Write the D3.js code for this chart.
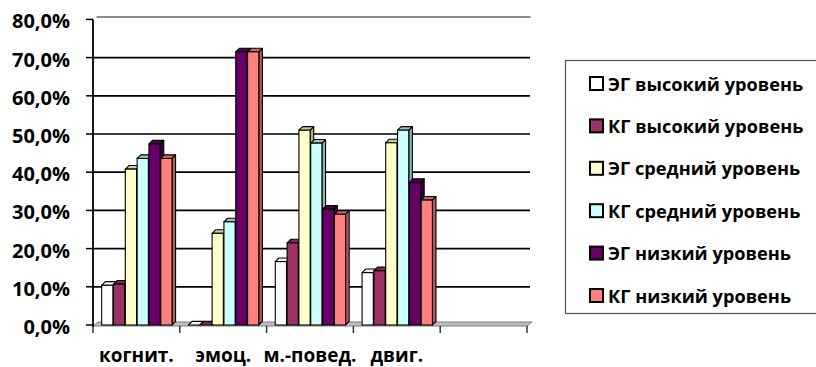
<!DOCTYPE html>
<html><head><meta charset="utf-8">
<script src="https://cdn.jsdelivr.net/npm/d3@7"></script>
<style>
html,body{margin:0;padding:0;background:#fff;}
svg{display:block;}
text{font-family:"Open Sans",sans-serif;font-weight:bold;fill:#000;}
</style></head>
<body>
<svg id="chart" width="816" height="367"></svg>
<script>
const categories = ["когнит.", "эмоц.", "м.-повед.", "двиг.", ""];
const seriesNames = ["ЭГ высокий уровень", "КГ высокий уровень", "ЭГ средний уровень", "КГ средний уровень", "ЭГ низкий уровень", "КГ низкий уровень"];
const egHigh = [10.4, 0, 16.6, 13.7, null];
const kgHigh = [10.7, 0, 21.5, 14.2, null];
const egMid  = [40.8, 24.0, 51.0, 47.7, null];
const kgMid  = [43.6, 27.0, 47.6, 51.0, null];
const egLow  = [47.4, 71.5, 30.3, 37.3, null];
const kgLow  = [43.6, 71.5, 29.0, 32.7, null];
const yTicks = [0, 10, 20, 30, 40, 50, 60, 70, 80];

const seriesValues = [egHigh, kgHigh, egMid, kgMid, egLow, kgLow];
const frontColors = ["#FFFFFF", "#993366", "#FFFFCC", "#CCFFFF", "#660066", "#FF8080"];
const topColors   = ["#F2F2F2", "#7A2952", "#CCCC99", "#99C2C2", "#4D004D", "#CC6666"];
const sideColors  = ["#E6E6E6", "#6B2447", "#B3B38F", "#8FB3B3", "#3D003D", "#B35A5A"];

const svg = d3.select("#chart");
const y0 = 325;
const x = d3.scaleBand().domain(categories).range([93, 527]);
const xi = d3.scaleBand().domain(seriesNames).range([x.bandwidth()*0.1, x.bandwidth()*0.91]).paddingInner(0.05);
const y = d3.scaleLinear().domain([0, 80]).range([y0, 19.4]);
const dx = 3.6, dy = 3.6;
const xL = 93, xR = 527;

// back wall top edge
svg.append("line").attr("x1", xL + dx).attr("x2", xR + dx)
  .attr("y1", y(80) - 2.5).attr("y2", y(80) - 2.5)
  .attr("stroke", "#8c8c8c").attr("stroke-width", 2);

// gridlines
svg.append("g").selectAll("line").data(yTicks.filter(t => t > 0 && t < 80)).join("line")
  .attr("x1", xL).attr("x2", xR + 3)
  .attr("y1", d => y(d)).attr("y2", d => y(d))
  .attr("stroke", "#000").attr("stroke-width", 1.7);

// floor
svg.append("polygon")
  .attr("points", [[xL, y0 + 1], [xR, y0 + 1], [xR + 5, y0 - 3], [xL + 5, y0 - 3]].map(p => p.join(",")).join(" "))
  .attr("fill", "#bdbdbd").attr("stroke", "#7f7f7f").attr("stroke-width", 1);

// y axis
svg.append("line").attr("x1", xL).attr("x2", xL).attr("y1", y(80)).attr("y2", y0 + 2)
  .attr("stroke", "#000").attr("stroke-width", 1.8);
const yAxisG = svg.append("g");
yAxisG.selectAll("line").data(yTicks).join("line")
  .attr("x1", xL - 7).attr("x2", xL).attr("y1", d => y(d)).attr("y2", d => y(d))
  .attr("stroke", "#000").attr("stroke-width", 1.5);
yAxisG.selectAll("text").data(yTicks).join("text")
  .attr("x", 70).attr("y", d => y(d) + 1.5)
  .attr("text-anchor", "end").attr("dominant-baseline", "central")
  .attr("font-size", 20)
  .text(d => d3.format(".1f")(d).replace(".", ",") + "%");

// category ticks
const bounds = categories.map(c => x(c)).concat([xR]);
svg.append("g").selectAll("line").data(bounds).join("line")
  .attr("x1", d => d).attr("x2", d => d).attr("y1", y0 + 1).attr("y2", y0 + 8)
  .attr("stroke", "#333").attr("stroke-width", 1.5);

// category labels
svg.append("g").selectAll("text").data(categories).join("text")
  .attr("x", d => x(d) + x.bandwidth() / 2).attr("y", 362)
  .attr("text-anchor", "middle").attr("font-size", 19)
  .text(d => d);

// bars
const barsG = svg.append("g");
const w = xi.bandwidth();
categories.forEach((c, ci) => {
  seriesValues.forEach((vals, si) => {
    const v = vals[ci];
    if (v === null || v === undefined) return;
    const x0 = x(c) + xi(seriesNames[si]);
    const yt = y(v);
    const g = barsG.append("g");
    const pts = a => a.map(p => p.join(",")).join(" ");
    g.append("polygon").attr("points", pts([[x0 + w, yt], [x0 + w + dx, yt - dy], [x0 + w + dx, y0 - dy], [x0 + w, y0]]))
      .attr("fill", sideColors[si]).attr("stroke", "#000").attr("stroke-width", 1.1).attr("stroke-linejoin", "round");
    g.append("polygon").attr("points", pts([[x0, yt], [x0 + dx, yt - dy], [x0 + w + dx, yt - dy], [x0 + w, yt]]))
      .attr("fill", topColors[si]).attr("stroke", "#000").attr("stroke-width", 1.1).attr("stroke-linejoin", "round");
    g.append("rect").attr("x", x0).attr("y", yt).attr("width", w).attr("height", y0 - yt)
      .attr("fill", frontColors[si]).attr("stroke", "#000").attr("stroke-width", 1.1);
  });
});

// legend
const lg = svg.append("g");
lg.append("rect").attr("x", 565.5).attr("y", 60.5).attr("width", 260).attr("height", 253)
  .attr("fill", "#fff").attr("stroke", "#555").attr("stroke-width", 1.2);
const ly = d3.scalePoint().domain(seriesNames).range([83.5, 295.5]);
const items = lg.selectAll("g.item").data(seriesNames).join("g").attr("class", "item")
  .attr("transform", d => `translate(0,${ly(d)})`);
items.append("rect").attr("x", 590).attr("y", -6.5).attr("width", 13).attr("height", 13)
  .attr("fill", (d, i) => frontColors[i]).attr("stroke", "#000").attr("stroke-width", 2);
items.append("text").attr("x", 608).attr("y", 0).attr("dominant-baseline", "central")
  .attr("font-size", 18.2).text(d => d);
</script>
</body></html>
